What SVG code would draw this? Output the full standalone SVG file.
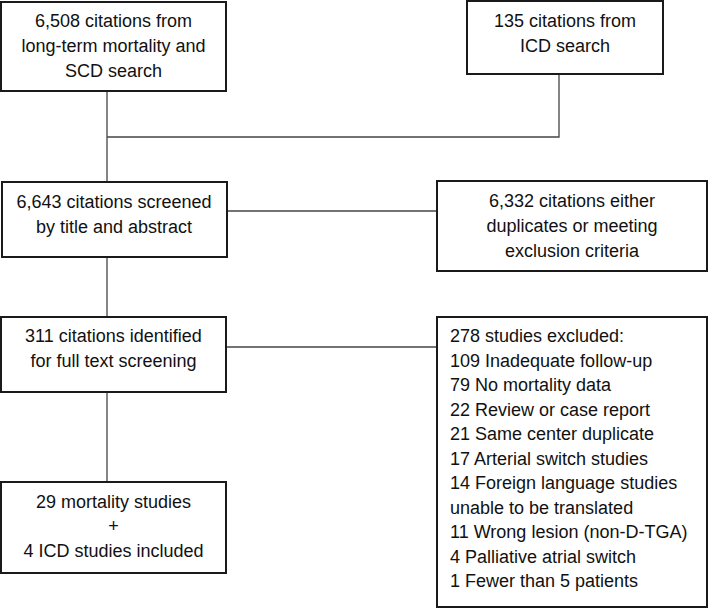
<svg xmlns="http://www.w3.org/2000/svg" width="709" height="609" viewBox="0 0 709 609">
<style>
.box{fill:#fff;stroke:#1a1a1a;stroke-width:2}
.ln{fill:none;stroke:#444;stroke-width:1.3}
text{font-family:"Liberation Sans",Arial,sans-serif;font-size:18px;fill:#111}
.c{text-anchor:middle}
</style>
<rect width="709" height="609" fill="#fff"/>
<g id="connectors">
<path class="ln" d="M107 91V182M107 137H559V74"/>
<path class="ln" d="M227 211H437"/>
<path class="ln" d="M107 257V317"/>
<path class="ln" d="M226 347H437"/>
<path class="ln" d="M107 392V482"/>
</g>
<g id="n1"><rect class="box" x="1" y="2" width="225" height="89"/>
<text class="c" x="113.5" y="27">6,508 citations from</text>
<text class="c" x="113.5" y="52">long-term mortality and</text>
<text class="c" x="113.5" y="77">SCD search</text></g>
<g id="n2"><rect class="box" x="467" y="1" width="196" height="73"/>
<text class="c" x="565" y="27">135 citations from</text>
<text class="c" x="565" y="52">ICD search</text></g>
<g id="n3"><rect class="box" x="2" y="182" width="225" height="75"/>
<text class="c" x="114" y="208">6,643 citations screened</text>
<text class="c" x="114" y="233">by title and abstract</text></g>
<g id="n4"><rect class="box" x="437" y="181" width="270" height="90"/>
<text class="c" x="572" y="207">6,332 citations either</text>
<text class="c" x="572" y="232">duplicates or meeting</text>
<text class="c" x="572" y="257">exclusion criteria</text></g>
<g id="n5"><rect class="box" x="1" y="317" width="225" height="75"/>
<text class="c" x="113.5" y="342">311 citations identified</text>
<text class="c" x="113.5" y="367">for full text screening</text></g>
<g id="n6"><rect class="box" x="437" y="317" width="270" height="290"/>
<text x="450" y="342">278 studies excluded:</text>
<text x="450" y="366.5">109 Inadequate follow-up</text>
<text x="450" y="391">79 No mortality data</text>
<text x="450" y="415.5">22 Review or case report</text>
<text x="450" y="440">21 Same center duplicate</text>
<text x="450" y="464.5">17 Arterial switch studies</text>
<text x="450" y="489">14 Foreign language studies</text>
<text x="450" y="513.5">unable to be translated</text>
<text x="450" y="538">11 Wrong lesion (non-D-TGA)</text>
<text x="450" y="562.5">4 Palliative atrial switch</text>
<text x="450" y="587">1 Fewer than 5 patients</text></g>
<g id="n7"><rect class="box" x="1" y="482" width="225" height="91"/>
<text class="c" x="113.5" y="508">29 mortality studies</text>
<text class="c" x="113.5" y="532">+</text>
<text class="c" x="113.5" y="557">4 ICD studies included</text></g>
</svg>
